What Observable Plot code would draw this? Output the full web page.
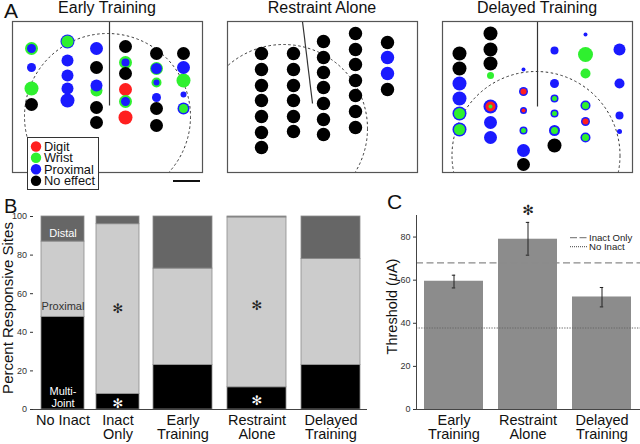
<!DOCTYPE html>
<html><head><meta charset="utf-8">
<script src="https://cdn.jsdelivr.net/npm/d3@7"></script>
<script src="https://cdn.jsdelivr.net/npm/@observablehq/plot@0.6"></script>
<style>
body{margin:0;background:#fff}
#fig{position:relative;width:640px;height:444px;overflow:hidden;background:#fff}
#fig svg{position:absolute;overflow:visible}
</style></head><body><div id="fig"></div>
<script>
const FONT = "'Liberation Sans', Arial, Helvetica, sans-serif";

// ---------- Panel A: site maps (local map units) ----------
const siteTypes = ["D", "W", "P", "N"];
const siteNames = ["Digit", "Wrist", "Proximal", "No effect"];
const siteColors = ["#ff1f1f", "#2ff02f", "#1a1aff", "#000000"];
const mapTitles = ["Early Training", "Restraint Alone", "Delayed Training"];

const earlySites = [
  {x:19,y:27,r:6.5,c:"W",ri:4.5,ci:"P"},
  {x:19,y:46,r:4.5,c:"P"},
  {x:19,y:67,r:7,c:"W"},
  {x:19,y:83,r:6.5,c:"N"},
  {x:55,y:20,r:7,c:"P",ri:6,ci:"W"},
  {x:55,y:39,r:6,c:"P"},
  {x:55,y:54,r:6,c:"P"},
  {x:55,y:67,r:6,c:"P"},
  {x:55,y:79,r:7,c:"P"},
  {x:84,y:27,r:6.5,c:"P"},
  {x:84,y:46,r:6.5,c:"N"},
  {x:84,y:69,r:6,c:"W"},
  {x:84,y:64,r:6,c:"P"},
  {x:84,y:86,r:6.5,c:"N"},
  {x:84,y:101,r:6.5,c:"N"},
  {x:113,y:25,r:6.5,c:"N"},
  {x:113,y:41,r:6.5,c:"W",ri:4,ci:"P"},
  {x:113,y:52,r:6.5,c:"N"},
  {x:113,y:68,r:6.5,c:"D"},
  {x:113,y:80,r:6.5,c:"W",ri:4.5,ci:"P"},
  {x:113,y:96,r:7,c:"D"},
  {x:144,y:32,r:6.5,c:"N"},
  {x:144,y:47,r:6.5,c:"W",ri:5.5,ci:"P"},
  {x:144,y:61,r:5,c:"W",ri:3,ci:"P"},
  {x:144,y:76,r:4.5,c:"P"},
  {x:144,y:87,r:6.5,c:"N"},
  {x:144,y:104,r:6.5,c:"N"},
  {x:171,y:32,r:6.5,c:"N"},
  {x:171,y:46,r:6.5,c:"P"},
  {x:171,y:59,r:7,c:"W"},
  {x:171,y:73,r:3,c:"P"},
  {x:171,y:87,r:6,c:"P",ri:4.5,ci:"W"}
];

const restraintSites = [
  {x:34,y:32,r:6.7,c:"N"},{x:34,y:48,r:6.7,c:"N"},{x:34,y:64,r:6.7,c:"N"},{x:34,y:79,r:6.7,c:"N"},
  {x:34,y:95,r:6.7,c:"N"},{x:34,y:111,r:6.7,c:"N"},{x:34,y:126,r:6.7,c:"N"},
  {x:66,y:32,r:6.7,c:"N"},{x:66,y:48,r:6.7,c:"N"},{x:66,y:64,r:6.7,c:"N"},{x:66,y:79,r:6.7,c:"N"},
  {x:66,y:95,r:6.7,c:"N"},{x:66,y:110,r:6.7,c:"N"},
  {x:96,y:20,r:6.7,c:"N"},{x:96,y:36,r:6.7,c:"N"},{x:96,y:51,r:6.7,c:"N"},{x:96,y:66,r:6.7,c:"N"},
  {x:96,y:82,r:6.7,c:"N"},{x:96,y:98,r:6.7,c:"N"},{x:96,y:113,r:6.7,c:"N"},
  {x:128,y:12,r:6.7,c:"N"},{x:128,y:28,r:6.7,c:"N"},{x:128,y:43,r:6.7,c:"N"},{x:128,y:59,r:6.7,c:"N"},
  {x:128,y:74,r:6.7,c:"N"},{x:128,y:90,r:6.7,c:"N"},{x:128,y:106,r:6.7,c:"N"},
  {x:160,y:21,r:6.7,c:"N"},{x:160,y:36,r:6.7,c:"P"},{x:160,y:52,r:6.7,c:"P"},{x:160,y:68,r:6.7,c:"N"}
];

const delayedSites = [
  {x:17,y:32,r:7,c:"N"},{x:17,y:47,r:7,c:"N"},{x:17,y:62,r:7,c:"P"},{x:17,y:77,r:7,c:"P"},
  {x:17,y:92,r:7,c:"P",ri:5.5,ci:"W"},{x:17,y:108,r:7,c:"P",ri:5.5,ci:"W"},
  {x:48,y:12,r:7,c:"N"},{x:48,y:28,r:7,c:"N"},{x:48,y:42,r:7,c:"N"},{x:48,y:54,r:3.5,c:"W"},
  {x:48,y:85,r:7,c:"P",ri:5,ci:"D",rc:2,cc:"W"},{x:48,y:101,r:6.5,c:"P"},{x:48,y:116,r:6.5,c:"P"},
  {x:81,y:48,r:2,c:"P"},{x:81,y:70,r:4.5,c:"P",ri:3,ci:"D"},{x:81,y:89,r:3.5,c:"P",ri:2,ci:"D"},
  {x:81,y:109,r:4,c:"P",ri:2.5,ci:"W"},{x:81,y:129,r:6.5,c:"P"},{x:81,y:143,r:6.5,c:"N"},
  {x:112,y:29,r:4,c:"P"},{x:112,y:62,r:4.5,c:"P"},{x:112,y:77,r:4,c:"P",ri:2.5,ci:"W"},
  {x:112,y:92,r:4,c:"P",ri:2.5,ci:"W"},{x:112,y:109,r:5.5,c:"P",ri:3.5,ci:"W"},{x:112,y:124,r:7,c:"N"},
  {x:143,y:13,r:2,c:"P"},{x:143,y:33,r:7.5,c:"W"},{x:143,y:52,r:5,c:"W"},
  {x:143,y:84,r:5,c:"P",ri:3.5,ci:"W"},{x:143,y:100,r:4.5,c:"P",ri:3,ci:"D"},{x:143,y:116,r:5,c:"P",ri:3.5,ci:"W"},
  {x:177,y:28,r:6,c:"P"},{x:177,y:62,r:5,c:"P"},{x:177,y:94,r:4,c:"P"},{x:177,y:110,r:2.5,c:"P"}
];

const earlyArc = [{x:95, y:95, r:83}];
const restraintArc = [{x:56, y:107, r:84}];
const delayedArc = [{x:93.5, y:134, r:84}];
const earlyTract = [{x1:97, y1:0, x2:97, y2:84}];
const restraintTract = [{x1:75, y1:0, x2:85, y2:82}];
const delayedTract = [{x1:95, y1:0, x2:95, y2:85}];

// ---------- Panel B ----------
const groupsB = ["No Inact", "Inact Only", "Early Training", "Restraint Alone", "Delayed Training"];
const tickLabelsB = ["No Inact", "Inact\nOnly", "Early\nTraining", "Restraint\nAlone", "Delayed\nTraining"];
const multiJoint = [48, 8, 23, 11.5, 23];
const proximalB = [39, 88, 50, 88, 55];
const distalB = [13, 4, 27, 0.5, 22];
const typesB = ["Multi-Joint", "Proximal", "Distal"];
const colorsB = ["#000000", "#cccccc", "#666666"];
const yLabelB = "Percent Responsive Sites";
const annB = [
  {group:"No Inact", y:91.6, label:"Distal", color:"#ffffff"},
  {group:"No Inact", y:53.5, label:"Proximal", color:"#333333"},
  {group:"No Inact", y:6.6, label:"Multi-\nJoint", color:"#ffffff"}
];
const starsB = [
  {group:"Inact Only", y:52.3, color:"#222222"},
  {group:"Inact Only", y:3.1, color:"#ffffff"},
  {group:"Restraint Alone", y:53.9, color:"#222222"},
  {group:"Restraint Alone", y:4.7, color:"#ffffff"}
];

// ---------- Panel C ----------
const groupsC = ["Early Training", "Restraint Alone", "Delayed Training"];
const tickLabelsC = ["Early\nTraining", "Restraint\nAlone", "Delayed\nTraining"];
const thresholdC = [59.5, 79, 52.2];
const errLowC = [56.4, 71.6, 47.6];
const errHighC = [62.3, 86.8, 56.6];
const inactOnlyRef = 68;
const noInactRef = 37.8;
const starsC = [{group:"Restraint Alone", y:92.3}];

const fig = document.getElementById("fig");
const place = (el, left, top) => { el.style.left = left + "px"; el.style.top = top + "px"; fig.appendChild(el); return el; };
const baseStyle = {fontFamily: FONT, fontSize: "9px", color: "#333", background: "transparent", overflow: "visible"};

// ---------- draw maps ----------
function mapPlot(sites, arc, tract) {
  return Plot.plot({
    width: 190, height: 151, margin: 0,
    style: baseStyle,
    x: {domain: [0, 190], range: [0, 190], axis: null},
    y: {domain: [0, 151], range: [0, 151], axis: null},
    r: {type: "identity"},
    color: {domain: siteTypes, range: siteColors},
    marks: [
      Plot.dot(arc, {x: "x", y: "y", r: "r", fill: "none", stroke: "#222", strokeWidth: 0.9, strokeDasharray: "2.5,2.5", clip: true}),
      Plot.link(tract, {x1: "x1", y1: "y1", x2: "x2", y2: "y2", stroke: "#333", strokeWidth: 1.2}),
      Plot.dot(sites, {x: "x", y: "y", r: "r", fill: "c"}),
      Plot.dot(sites.filter(d => d.ci), {x: "x", y: "y", r: "ri", fill: "ci"}),
      Plot.dot(sites.filter(d => d.cc), {x: "x", y: "y", r: "rc", fill: "cc"}),
      Plot.frame({stroke: "#555", strokeWidth: 1.2})
    ]
  });
}
place(mapPlot(earlySites, earlyArc, earlyTract), 12, 21);
place(mapPlot(restraintSites, restraintArc, restraintTract), 227, 21);
place(mapPlot(delayedSites, delayedArc, delayedTract), 442, 21);

// ---------- draw B ----------
const rowsB = groupsB.flatMap((g, i) => [
  {group: g, type: typesB[0], value: multiJoint[i]},
  {group: g, type: typesB[1], value: proximalB[i]},
  {group: g, type: typesB[2], value: distalB[i]}
]);
const fmtB = d => tickLabelsB[groupsB.indexOf(d)];

function stackPlot(groups, w, left, mLeft, pIn, pOut, withAxis) {
  const rows = rowsB.filter(d => groups.includes(d.group));
  const marks = [
    Plot.barY(rows, {x: "group", y: "value", fill: "type", stroke: "#8c8c8c", strokeWidth: 0.8}),
    Plot.ruleY([0], {stroke: "#444", strokeWidth: 1}),
    Plot.text(annB.filter(d => groups.includes(d.group)), {x: "group", y: "y", text: "label", fill: "color", fontSize: 11, lineHeight: 1.1}),
    Plot.text(starsB.filter(d => groups.includes(d.group)), {x: "group", y: "y", text: () => "✻", fill: "color", fontSize: 13, fontFamily: "DejaVu Sans"}),
    Plot.axisX({tickSize: 0, tickPadding: 5, fontSize: 14.5, lineHeight: 1, tickFormat: fmtB, fill: "#111", label: null})
  ];
  if (withAxis) {
    marks.push(Plot.axisY({ticks: [0, 20, 40, 60, 80, 100], tickSize: 3, tickPadding: 3.5, fontSize: 9, label: null}));
  }
  const p = Plot.plot({
    width: w, height: 239, marginLeft: mLeft, marginRight: 0, marginTop: 11, marginBottom: 35,
    style: baseStyle,
    x: {domain: groups, paddingInner: pIn, paddingOuter: pOut, label: null},
    y: {domain: [0, 100], axis: withAxis ? undefined : null, label: null},
    color: {domain: typesB, range: colorsB},
    marks
  });
  return place(p, left, 205);
}
stackPlot(groupsB.slice(0, 2), 147, 0, 33, 0.214, 0.125, true);
stackPlot(groupsB.slice(2), 220, 147, 0, 0.2, 0.0667, false);

// ---------- draw C ----------
const rowsC = groupsC.map((g, i) => ({group: g, value: thresholdC[i], lo: errLowC[i], hi: errHighC[i]}));
const fmtC = d => tickLabelsC[groupsC.indexOf(d)];
const pC = Plot.plot({
  width: 310, height: 239, marginLeft: 86, marginRight: 0, marginTop: 10, marginBottom: 35,
  style: baseStyle,
  x: {domain: groupsC, paddingInner: 0.2, paddingOuter: 0.1, label: null},
  y: {domain: [0, 90], label: null},
  marks: [
    Plot.barY(rowsC, {x: "group", y: "value", fill: "#8c8c8c"}),
    Plot.ruleY([inactOnlyRef], {stroke: "#8a8a8a", strokeWidth: 1.4, strokeDasharray: "7,3.5"}),
    Plot.ruleY([noInactRef], {stroke: "#666", strokeWidth: 1.2, strokeDasharray: "1.3,1.3"}),
    Plot.ruleX(rowsC, {x: "group", y1: "lo", y2: "hi", stroke: "#222", strokeWidth: 1}),
    Plot.tickY(rowsC, {x: "group", y: "lo", stroke: "#222", insetLeft: 27.8, insetRight: 27.8}),
    Plot.tickY(rowsC, {x: "group", y: "hi", stroke: "#222", insetLeft: 27.8, insetRight: 27.8}),
    Plot.text(starsC, {x: "group", y: "y", text: () => "✻", fill: "#222", fontSize: 14, fontFamily: "DejaVu Sans"}),
    Plot.ruleY([0], {stroke: "#444", strokeWidth: 1}),
    Plot.frame({anchor: "left", stroke: "#444", strokeWidth: 1}),
    Plot.axisY({ticks: [0, 20, 40, 60, 80], tickSize: 3, tickPadding: 3, fontSize: 9, label: null}),
    Plot.axisX({tickSize: 0, tickPadding: 5, fontSize: 14.5, lineHeight: 1, tickFormat: fmtC, fill: "#111", label: null})
  ]
});
place(pC, 330, 205);

// ---------- overlay: titles, panel letters, axis titles, legends, scale bar ----------
const ov = d3.create("svg").attr("width", 640).attr("height", 444)
  .style("left", "0px").style("top", "0px").style("font-family", FONT).style("pointer-events", "none");
const titleX = [107, 322, 537];
mapTitles.forEach((t, i) => ov.append("text").attr("x", titleX[i]).attr("y", 13).attr("text-anchor", "middle")
  .attr("font-size", 16).attr("fill", "#111").text(t));
[["A", 4, 18, 21], ["B", 4, 213, 20], ["C", 387, 209, 21]].forEach(([t, x, y, s]) =>
  ov.append("text").attr("x", x).attr("y", y).attr("font-size", s).attr("fill", "#111").text(t));

// rotated axis titles
ov.append("text").attr("transform", "translate(12.8,308) rotate(-90)").attr("text-anchor", "middle")
  .attr("font-size", 15).attr("fill", "#111").text(yLabelB);
const tC = ov.append("text").attr("transform", "translate(396.5,306.5) rotate(-90)").attr("text-anchor", "middle")
  .attr("font-size", 14.5).attr("fill", "#111");
tC.append("tspan").text("Threshold (");
tC.append("tspan").attr("font-style", "italic").text("μ");
tC.append("tspan").text("A)");

// legend A
ov.append("rect").attr("x", 27.5).attr("y", 137.5).attr("width", 71).attr("height", 52)
  .attr("fill", "#fff").attr("stroke", "#333").attr("stroke-width", 1);
const legY = [146.5, 157.7, 169.2, 180.8];
siteNames.forEach((n, i) => {
  ov.append("circle").attr("cx", 36).attr("cy", legY[i]).attr("r", 5.2).attr("fill", siteColors[i]);
  ov.append("text").attr("x", 44).attr("y", legY[i] + 4.4).attr("font-size", 12.8).attr("fill", "#111").text(n);
});
// scale bar
ov.append("rect").attr("x", 173).attr("y", 180).attr("width", 27).attr("height", 2).attr("fill", "#111");

// legend C
const legC = [["Inact Only", "7,2.5", "#888", 237.7], ["No Inact", "1,1", "#666", 246.7]];
legC.forEach(([t, dash, col, y]) => {
  ov.append("line").attr("x1", 570).attr("x2", 588).attr("y1", y).attr("y2", y)
    .attr("stroke", col).attr("stroke-width", 1.3).attr("stroke-dasharray", dash);
  ov.append("text").attr("x", 589).attr("y", y + 3.4).attr("font-size", 9.6).attr("fill", "#222").text(t);
});
fig.appendChild(ov.node());
</script></body></html>
